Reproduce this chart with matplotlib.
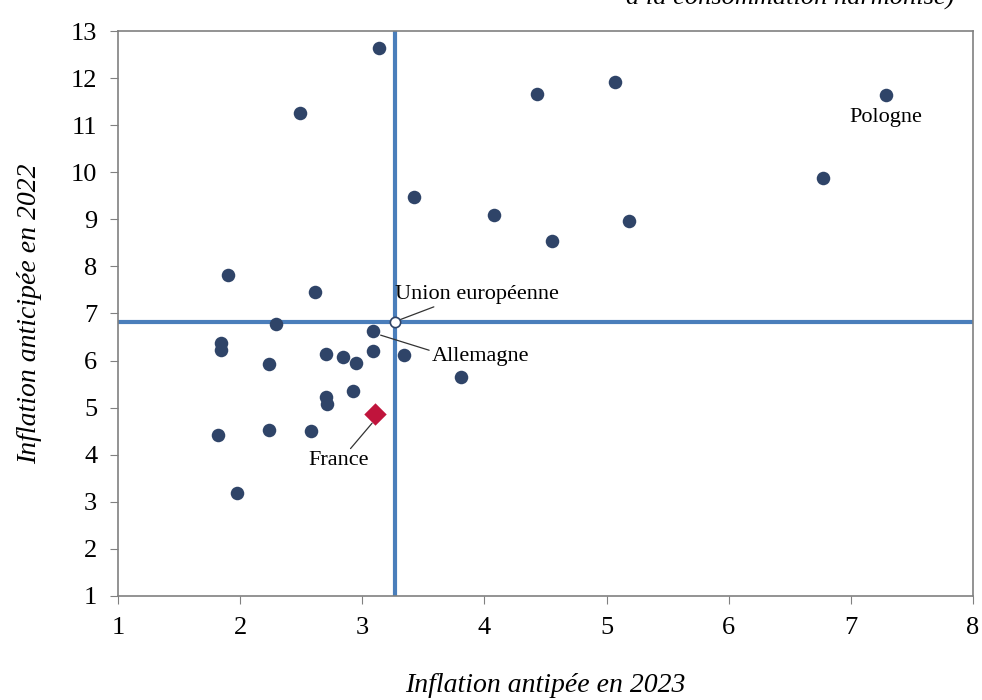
import matplotlib.pyplot as plt

# Inflation anticipée 2023 (x) / 2022 (y) par pays
x_pays = [3.14, 2.49, 4.43, 5.07, 7.29, 6.77, 3.42, 4.08, 4.55, 5.18,
          1.90, 2.61, 2.29, 1.84, 1.84, 2.24, 2.70, 2.84, 2.95, 3.09,
          3.09, 3.34, 3.81, 2.70, 2.71, 2.92, 1.82, 2.24, 2.58, 1.97]
y_pays = [12.64, 11.26, 11.66, 11.92, 11.64, 9.88, 9.47, 9.09, 8.54, 8.96,
          7.82, 7.46, 6.78, 6.37, 6.22, 5.93, 6.14, 6.08, 5.95, 6.63,
          6.20, 6.12, 5.65, 5.23, 5.08, 5.35, 4.42, 4.53, 4.50, 3.19]
x_france, y_france = 3.10, 4.86
x_ue, y_ue = 3.27, 6.82
x_allemagne, y_allemagne = 3.09, 6.63
x_pologne, y_pologne = 7.29, 11.64

bleu = '#4a7ebb'
marine = '#2f4468'

plt.rcParams['font.family'] = ['Liberation Serif', 'DejaVu Serif']

fig = plt.figure(figsize=(9.82, 7), dpi=100)
ax = fig.add_axes([0.1202, 0.1486, 0.8706, 0.8071])

ax.axvline(x_ue, color=bleu, lw=3, zorder=1)
ax.axhline(y_ue, color=bleu, lw=3, zorder=1)

ax.scatter(x_pays, y_pays, s=95, color=marine, zorder=3, linewidths=0)
ax.scatter([x_france], [y_france], s=130, marker='D', color='#c0143c', zorder=3, linewidths=0)
ax.scatter([x_ue], [y_ue], s=55, color='white', edgecolors=marine, linewidths=1.2, zorder=4)

trait = dict(arrowstyle='-', color='#333333', lw=0.9, shrinkA=0, shrinkB=0)
ax.annotate('Union européenne', xy=(x_ue + 0.02, y_ue + 0.03), xytext=(3.27, 7.2),
            fontsize=16, ha='left', va='bottom',
            arrowprops=dict(trait, relpos=(0.28, 0.0)))
ax.annotate('Allemagne', xy=(x_allemagne + 0.06, y_allemagne - 0.09), xytext=(3.57, 6.08),
            fontsize=16, ha='left', va='center',
            arrowprops=dict(trait, relpos=(0.0, 0.8)))
ax.annotate('France', xy=(x_france - 0.02, y_france - 0.19), xytext=(2.81, 3.87),
            fontsize=16, ha='center', va='center',
            arrowprops=dict(trait, relpos=(0.65, 1.0)))
ax.text(x_pologne, y_pologne - 0.28, 'Pologne', fontsize=16, ha='center', va='top')

ax.set_xlim(1, 8)
ax.set_ylim(1, 13)
ax.set_xticks(range(1, 9))
ax.set_yticks(range(1, 14))
ax.tick_params(direction='out', length=6, color='#808080', labelsize=19, pad=9)
for s in ax.spines.values():
    s.set_color('#808080')
    s.set_linewidth(1.2)

fig.text(0.5555, 0.02, 'Inflation antipée en 2023', fontsize=20, style='italic', ha='center', va='center')
fig.text(0.03, 0.552, 'Inflation anticipée en 2022', fontsize=20, style='italic',
         rotation=90, ha='center', va='center')
fig.text(0.972, 1 - 5 / 700, 'à la consommation harmonisé)', fontsize=19, style='italic',
         ha='right', va='baseline')

fig.savefig('out.png', dpi=100)
